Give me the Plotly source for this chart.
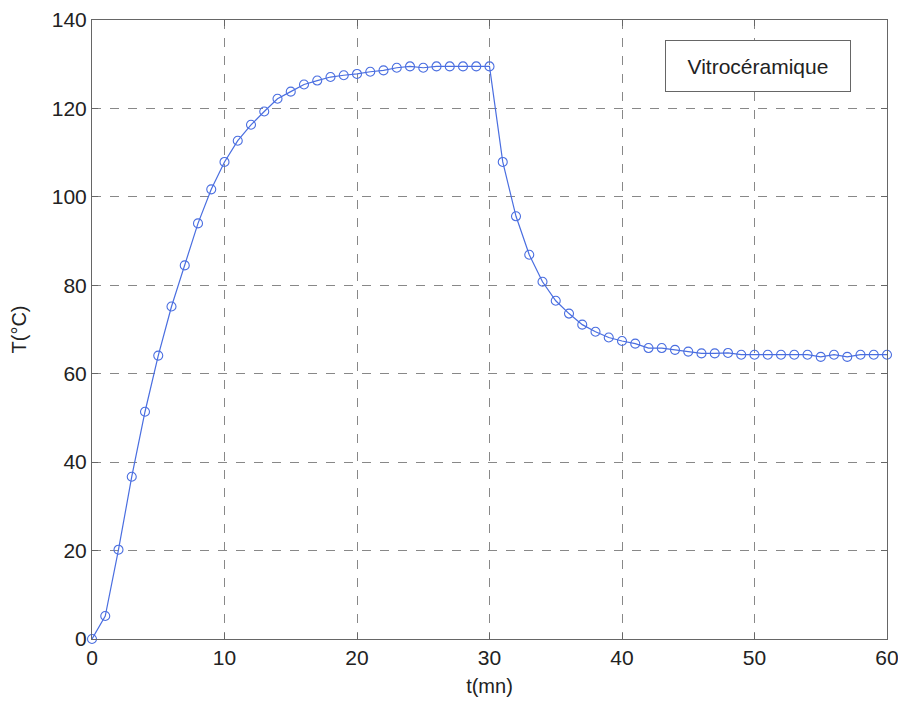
import plotly.graph_objects as go

t_mn = list(range(0, 61))
temp_c = [0, 5.2, 20.2, 36.7, 51.4, 64.1, 75.2, 84.5, 94.0, 101.7,
          107.9, 112.7, 116.3, 119.3, 122.2, 123.8, 125.4, 126.3, 127.1, 127.5,
          127.8, 128.3, 128.6, 129.2, 129.5, 129.2, 129.5, 129.5, 129.5, 129.5,
          129.5, 107.9, 95.6, 86.9, 80.8, 76.5, 73.6, 71.1, 69.5, 68.2,
          67.4, 66.8, 65.8, 65.8, 65.4, 65.0, 64.6, 64.6, 64.7, 64.3,
          64.3, 64.3, 64.3, 64.3, 64.3, 63.8, 64.3, 63.8, 64.3, 64.3, 64.3]

x_ticks = [0, 10, 20, 30, 40, 50, 60]
y_ticks = [0, 20, 40, 60, 80, 100, 120, 140]
legend_label = "Vitrocéramique"

blue = "#4a6ee0"
font_fam = "Liberation Sans, Arial, sans-serif"

fig = go.Figure()
fig.add_trace(go.Scatter(
    x=t_mn, y=temp_c, mode="lines+markers",
    line=dict(color=blue, width=1.2),
    marker=dict(symbol="circle-open", size=9, color=blue, line=dict(width=1.1, color=blue)),
    showlegend=False, cliponaxis=False,
))

axis_common = dict(
    showline=True, linecolor="#666", linewidth=1, mirror="ticks",
    ticks="inside", ticklen=6, tickcolor="#666",
    showgrid=True, gridcolor="#888", griddash="dash", gridwidth=1,
    zeroline=False, automargin=False, ticklabeloverflow="allow",
    tickfont=dict(family=font_fam, size=21, color="#222"),
)

fig.update_xaxes(range=[0, 60], tickvals=x_ticks, ticktext=[str(v) for v in x_ticks],
                 title=dict(text="t(mn)", font=dict(family=font_fam, size=20, color="#222"), standoff=10),
                 **axis_common)
fig.update_yaxes(range=[0, 140], tickvals=y_ticks, ticktext=[str(v) for v in y_ticks],
                 title=dict(text="T(°C)", font=dict(family=font_fam, size=20, color="#222"), standoff=22),
                 **axis_common)

fig.add_annotation(
    x=0.838, y=0.925, xref="paper", yref="paper", xanchor="center", yanchor="middle",
    text=legend_label, showarrow=False, width=160, height=26,
    font=dict(family=font_fam, size=21, color="#222"),
    bordercolor="#666", borderwidth=1, borderpad=12, bgcolor="white",
)

fig.update_layout(
    width=898, height=701,
    margin=dict(l=84, r=19, t=12, b=70),
    paper_bgcolor="white", plot_bgcolor="white",
)

fig.write_html("out.html")
